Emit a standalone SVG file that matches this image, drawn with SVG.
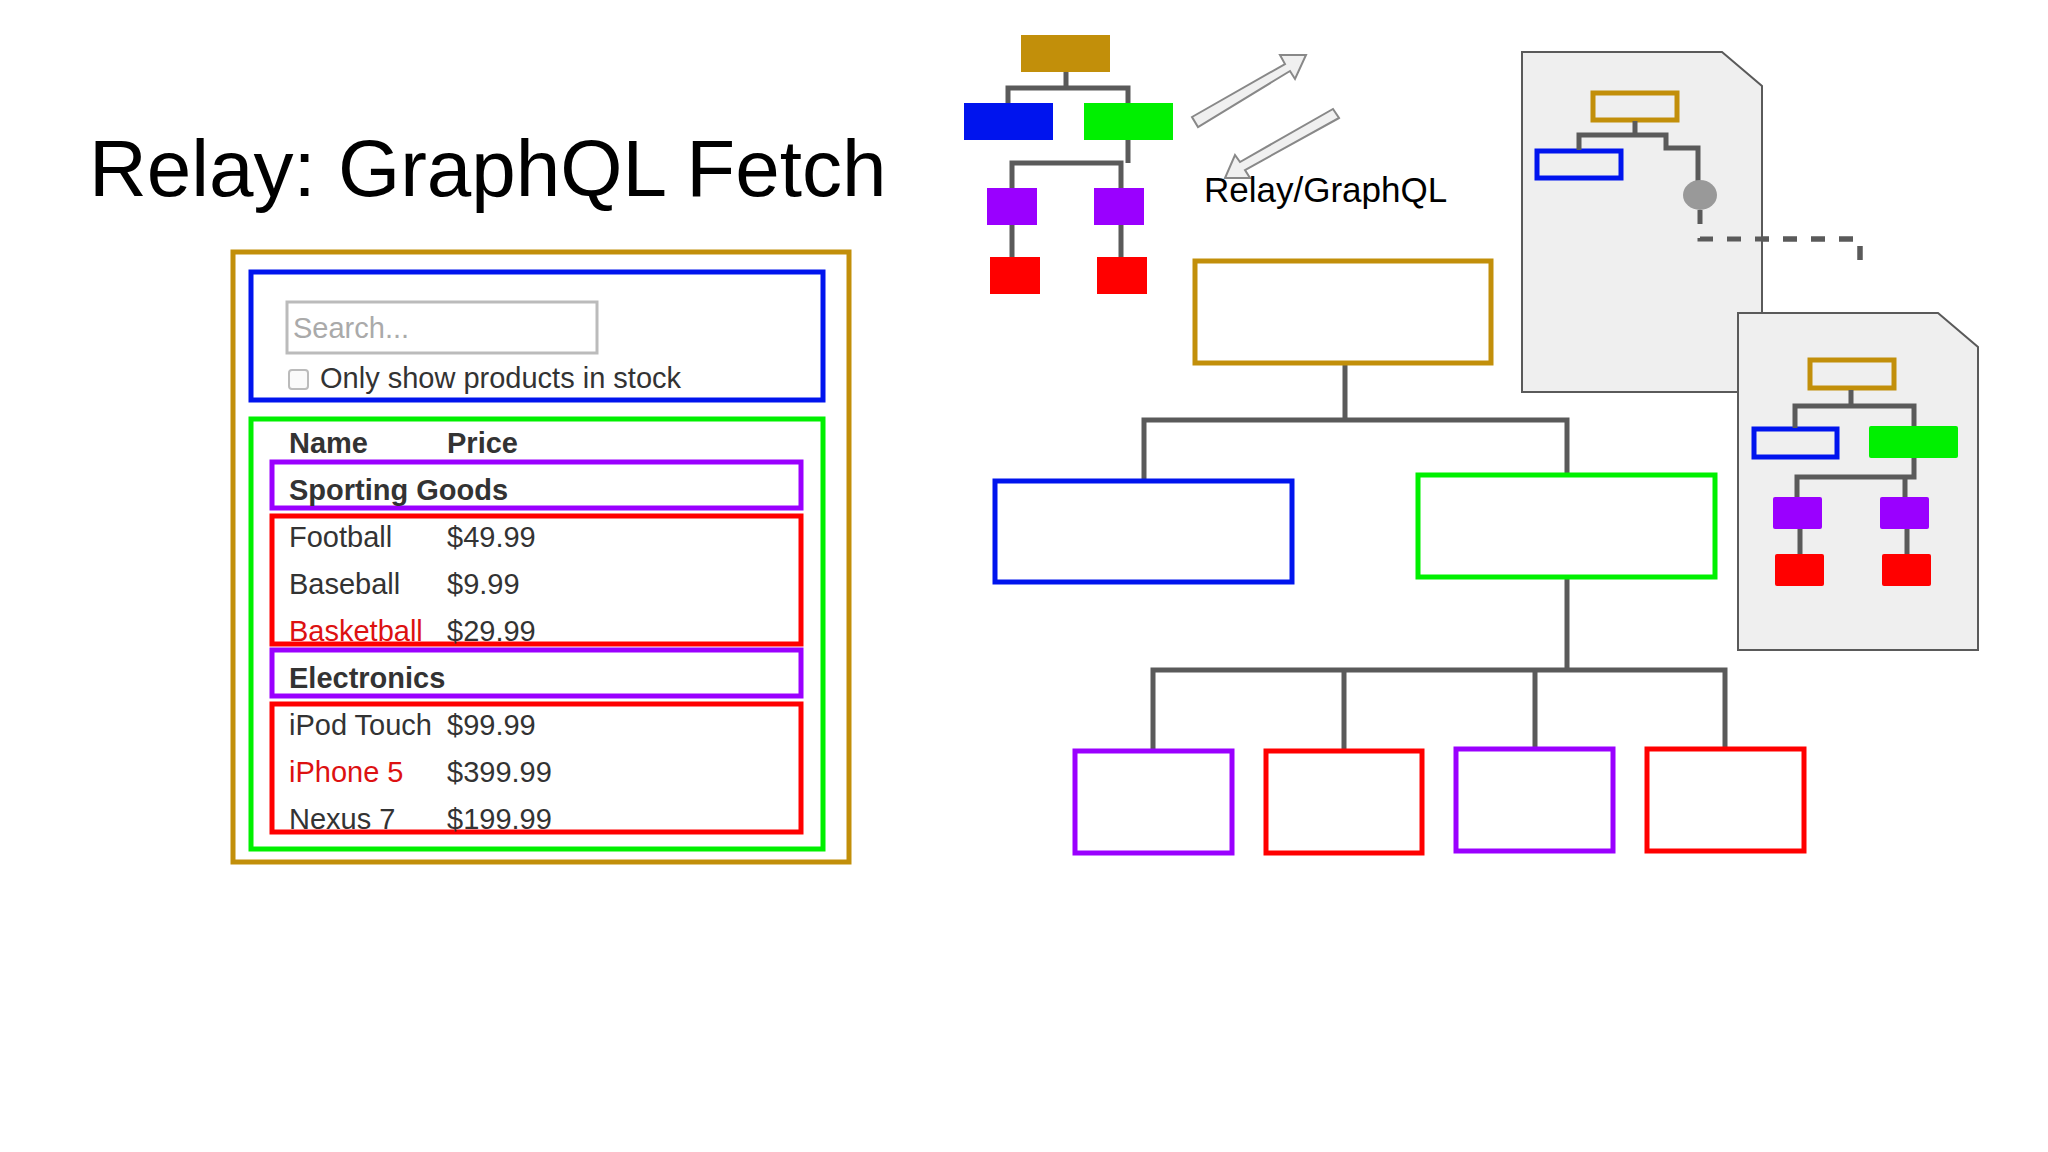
<svg xmlns="http://www.w3.org/2000/svg" width="2048" height="1152" viewBox="0 0 2048 1152">
<style>
.t{font-family:"Liberation Sans",Arial,sans-serif;fill:#333}
.b{font-weight:bold}
.c{fill:none;stroke:#5a5a5a;stroke-width:5}
.gold{fill:none;stroke:#c28f0a;stroke-width:5}
.blue{fill:none;stroke:#0014ee;stroke-width:5}
.green{fill:none;stroke:#00f000;stroke-width:5}
.purple{fill:none;stroke:#9a00ff;stroke-width:5}
.red{fill:none;stroke:#ff0000;stroke-width:5}
.page{fill:#efefef;stroke:#5a5a5a;stroke-width:2}
</style>
<rect width="2048" height="1152" fill="#fff"/>
<text x="89" y="196" font-family="Liberation Sans,Arial,sans-serif" font-size="80" fill="#000">Relay: GraphQL Fetch</text>

<g id="ui">
<rect class="gold" x="233" y="252" width="616" height="610"/>
<rect class="blue" x="251" y="272" width="572" height="128"/>
<rect x="287" y="302" width="310" height="51" fill="#fff" stroke="#bbb" stroke-width="3"/>
<text class="t" x="293" y="338" font-size="29" fill="#aaa" style="fill:#aaa">Search...</text>
<rect x="289" y="370" width="19" height="19" rx="3" fill="#fafafa" stroke="#bbb" stroke-width="2"/>
<text class="t" x="320" y="388" font-size="29">Only show products in stock</text>
<rect class="green" x="251" y="419" width="572" height="430"/>
<text class="t b" x="289" y="453" font-size="29">Name</text>
<text class="t b" x="447" y="453" font-size="29">Price</text>
<rect class="purple" x="272" y="462" width="529" height="46"/>
<text class="t b" x="289" y="500" font-size="29">Sporting Goods</text>
<rect class="red" x="272" y="516" width="529" height="128"/>
<text class="t" x="289" y="547" font-size="29">Football</text><text class="t" x="447" y="547" font-size="29">$49.99</text>
<text class="t" x="289" y="594" font-size="29">Baseball</text><text class="t" x="447" y="594" font-size="29">$9.99</text>
<text class="t" x="289" y="641" font-size="29" style="fill:#dd1111">Basketball</text><text class="t" x="447" y="641" font-size="29">$29.99</text>
<rect class="purple" x="272" y="650" width="529" height="46"/>
<text class="t b" x="289" y="688" font-size="29">Electronics</text>
<rect class="red" x="272" y="704" width="529" height="128"/>
<text class="t" x="289" y="735" font-size="29">iPod Touch</text><text class="t" x="447" y="735" font-size="29">$99.99</text>
<text class="t" x="289" y="782" font-size="29" style="fill:#dd1111">iPhone 5</text><text class="t" x="447" y="782" font-size="29">$399.99</text>
<text class="t" x="289" y="829" font-size="29">Nexus 7</text><text class="t" x="447" y="829" font-size="29">$199.99</text>
</g>

<g id="connectors">
<path class="c" d="M1066 72V88M1008 103V88H1128V103M1128 140V163M1012 188V163H1121V188M1012 225V257M1121 225V257"/>
<path class="c" d="M1345 363V420M1144 481V420H1567V475M1567 577V670M1153 751V670H1725V751M1344 751V670M1535 751V670"/>
<path class="c" d="M1635 121V135M1579 150V135H1666V148H1698V180"/>
<path class="c" d="M1700 210V239H1860V265" stroke-dasharray="14 14"/>
<path class="c" d="M1851 338V352M1795 367V352H1914V365M1914 396V416H1797V437M1905 416V437M1800 468V494M1907 468V494"/>
</g>

<g id="small-tree">
<rect x="1021" y="35" width="89" height="37" fill="#c28f0a"/>
<rect x="964" y="103" width="89" height="37" fill="#0014ee"/>
<rect x="1084" y="103" width="89" height="37" fill="#00f000"/>
<rect x="987" y="188" width="50" height="37" fill="#9a00ff"/>
<rect x="1094" y="188" width="50" height="37" fill="#9a00ff"/>
<rect x="990" y="257" width="50" height="37" fill="#ff0000"/>
<rect x="1097" y="257" width="50" height="37" fill="#ff0000"/>
</g>

<g id="arrows">
<polygon points="1192,117 1285,64 1280,55 1306,55 1295,79 1290,71 1198,127" fill="#f0f0f0" stroke="#888" stroke-width="2"/>
<polygon points="1339,118 1245,170 1250,178 1225,178 1235,155 1240,162 1333,109" fill="#f0f0f0" stroke="#888" stroke-width="2"/>
<text x="1204" y="202" font-family="Liberation Sans,Arial,sans-serif" font-size="35" fill="#000">Relay/GraphQL</text>
</g>

<g id="big-tree">
<rect class="gold" x="1195" y="261" width="296" height="102"/>
<rect class="blue" x="995" y="481" width="297" height="101"/>
<rect class="green" x="1418" y="475" width="297" height="102"/>
<rect class="purple" x="1075" y="751" width="157" height="102"/>
<rect class="red" x="1266" y="751" width="156" height="102"/>
<rect class="purple" x="1456" y="749" width="157" height="102"/>
<rect class="red" x="1647" y="749" width="157" height="102"/>
</g>

<g id="page1">
<polygon class="page" points="1522,52 1722,52 1762,86 1762,392 1522,392"/>
<rect class="gold" x="1593" y="93" width="84" height="27" stroke-width="6"/>
<rect class="blue" x="1537" y="151" width="84" height="27" stroke-width="6"/>
<path class="c" d="M1635 121V135M1579 150V135H1666V148H1698V182"/>
<ellipse cx="1700" cy="195" rx="17" ry="15" fill="#999"/>
<path class="c" d="M1700 210V239H1860V265" stroke-dasharray="14 14"/>
</g>

<g id="page2">
<polygon class="page" points="1738,313 1938,313 1978,347 1978,650 1738,650"/>
<rect class="gold" x="1810" y="360" width="84" height="28" stroke-width="6"/>
<rect class="blue" x="1754" y="429" width="83" height="28" stroke-width="6"/>
<rect x="1869" y="426" width="89" height="32" rx="2" fill="#00f000"/>
<path class="c" d="M1851 390V406M1795 428V406H1914V426M1914 458V477H1797V497M1905 477V497M1800 528V554M1907 528V554"/>
<rect x="1773" y="497" width="49" height="32" rx="2" fill="#9a00ff"/>
<rect x="1880" y="497" width="49" height="32" rx="2" fill="#9a00ff"/>
<rect x="1775" y="554" width="49" height="32" rx="2" fill="#ff0000"/>
<rect x="1882" y="554" width="49" height="32" rx="2" fill="#ff0000"/>
</g>
</svg>
